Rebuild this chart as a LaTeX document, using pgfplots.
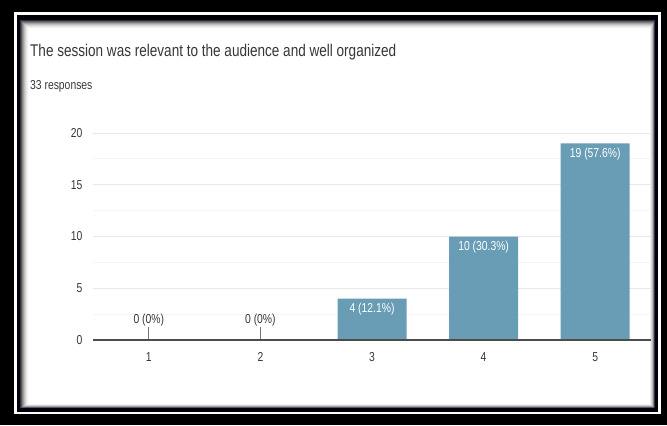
\documentclass[border=0pt]{standalone}
\usepackage{pgfplots}
\pgfplotsset{compat=1.18}
\usepackage{fontspec}
\setmainfont{Liberation Sans}[FakeStretch=0.8]
\definecolor{barblue}{RGB}{104,157,181}
\definecolor{txt}{RGB}{55,55,55}
\begin{document}
\begin{tikzpicture}[x=1bp,y=1bp]
\fill[black] (0,0) rectangle (667,-425);
\draw[white,line width=2.5bp] (15.5,-13.5) rectangle (659.5,-413);
\fill[black!90!blue] (18,-18) rectangle (657,-410);
\foreach \k/\c in {0/80,1/65,2/50,3/37,4/26,5/17,6/10,7/5,8/2} {
  \fill[black!\c] (20+\k,-20-\k) rectangle (655-0.6*\k,-408+0.5*\k);
}
\fill[white] (29,-29) rectangle (650,-403.5);
\node[anchor=base west, font=\fontsize{17}{19}\selectfont, text=txt, inner sep=0] at (30,-56) {The session was relevant to the audience and well organized};
\node[anchor=base west, font=\fontsize{13}{15}\selectfont, text=txt, inner sep=0] at (30,-89) {33 responses};
\begin{axis}[
  at={(93bp,-340bp)}, anchor=south west,
  scale only axis, width=558bp, height=207bp,
  xmin=0.5, xmax=5.5, ymin=0, ymax=20,
  axis line style={draw=none},
  /pgf/number format/assume math mode=true,
  xtick={1,2,3,4,5},
  ytick={0,5,10,15,20},
  minor ytick={2.5,7.5,12.5,17.5},
  ymajorgrids, yminorgrids,
  major grid style={color=black!9, line width=0.8bp},
  minor grid style={color=black!4, line width=0.8bp},
  tick style={draw=none},
  xticklabel style={font=\fontsize{13}{15}\selectfont, text=txt, yshift=-9bp},
  yticklabel style={font=\fontsize{13}{15}\selectfont, text=txt, xshift=-7bp},
  clip=false,
]
\addplot[ycomb, draw=black!55, line width=0.8bp] coordinates {(1,1.3) (2,1.3)};
\addplot[ybar, fill=barblue, draw=none, bar width=69bp,
  point meta=explicit symbolic,
  nodes near coords={\pgfplotspointmeta},
  every node near coord/.style={anchor=north, text=white, font=\fontsize{13}{15}\selectfont, yshift=-1bp}]
  coordinates {(3,4) [4 (12.1\%)] (4,10) [10 (30.3\%)] (5,19) [19 (57.6\%)]};
\addplot[only marks, mark=none,
  point meta=explicit symbolic,
  nodes near coords={\pgfplotspointmeta},
  every node near coord/.style={anchor=south, text=txt, font=\fontsize{13}{15}\selectfont, yshift=10bp}]
  coordinates {(1,0) [0 (0\%)] (2,0) [0 (0\%)]};
\end{axis}
\draw[black!70, line width=1.6bp] (93,-340) -- (651,-340);
\end{tikzpicture}
\end{document}
